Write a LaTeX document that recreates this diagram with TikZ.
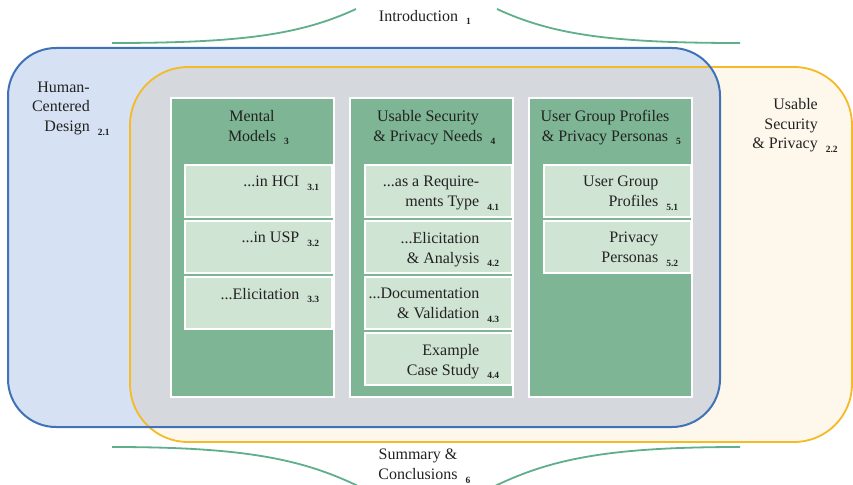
\documentclass[tikz,border=0pt]{standalone}
\usepackage{fontspec}
\setmainfont{Liberation Serif}
\usetikzlibrary{calc}
\definecolor{bluefill}{HTML}{D6E1F4}
\definecolor{blueline}{HTML}{3F72B6}
\definecolor{yelfill}{HTML}{FEF8EC}
\definecolor{yelline}{HTML}{F5BA25}
\definecolor{grayfill}{HTML}{D5D8DD}
\definecolor{colgreen}{HTML}{7EB594}
\definecolor{subgreen}{HTML}{D0E4D4}
\definecolor{bracegreen}{HTML}{5FAF8C}
\definecolor{txt}{HTML}{222222}
\newcommand{\subn}[1]{\rlap{\hspace{8pt}\raisebox{-3.5pt}{\fontsize{9.5}{9.5}\selectfont\bfseries #1}}}
\begin{document}
\begin{tikzpicture}[x=1pt,y=-1pt,
  lbl/.style={inner sep=0pt, text=txt, font=\fontsize{16}{19.8}\selectfont},
  colbox/.style={fill=colgreen, draw=white, line width=2pt, inner sep=0pt,
    anchor=north west, minimum width=163pt, minimum height=299pt},
  subbox/.style={fill=subgreen, draw=white, line width=1.5pt, inner sep=0pt,
    anchor=north west, minimum width=147pt, minimum height=52pt},
  brace/.style={draw=bracegreen, line width=1.8pt},
  boxtext/.style={lbl, align=right, anchor=north east},
]
\useasboundingbox (0,0) rectangle (853,484);
\fill[white] (0,0) rectangle (853,484);
% the two sets
\path[fill=bluefill, rounded corners=48pt] (8,48) rectangle (720,427);
\path[fill=yelfill, rounded corners=58pt] (130,67) rectangle (852,442);
\begin{scope}
  \clip[rounded corners=48pt] (8,48) rectangle (720,427);
  \fill[grayfill, rounded corners=58pt] (130,67) rectangle (852,442);
\end{scope}
\draw[yelline, line width=1.8pt, rounded corners=58pt] (130,67) rectangle (852,442);
\draw[blueline, line width=2pt, rounded corners=48pt] (8,48) rectangle (720,427);

% set labels
\node[lbl, align=right, anchor=north east] (hcd) at (90,81.5) {Human-\\Centered\\Design\subn{2.1}};
\node[lbl, align=right, anchor=north east] (usp) at (818,98) {Usable\\Security\\\& Privacy\subn{2.2}};

% columns
\node[colbox] (col3) at (170,97) {};
\node[colbox] (col4) at (349,97) {};
\node[colbox] (col5) at (528,97) {};

\node[lbl, align=center, anchor=north] (h3) at (252,110) {Mental\\Models\subn{3}};
\node[lbl, align=center, anchor=north] (h4) at (428,110) {Usable Security\\\& Privacy Needs\subn{4}};
\node[lbl, align=center, anchor=north] (h5) at (605,110) {User Group Profiles\\\& Privacy Personas\subn{5}};

% sub boxes column 3
\node[subbox] (b31) at (184,164) {};
\node[subbox] (b32) at (184,220) {};
\node[subbox] (b33) at (184,276) {};
\node[boxtext] (t31) at ($(b31.north east)+(-33,12)$) {...in HCI\subn{3.1}};
\node[boxtext] (t32) at ($(b32.north east)+(-33,12)$) {...in USP\subn{3.2}};
\node[boxtext] (t33) at ($(b33.north east)+(-33,12)$) {...Elicitation\subn{3.3}};

% sub boxes column 4
\node[subbox] (b41) at (364,164) {};
\node[subbox] (b42) at (364,220) {};
\node[subbox] (b43) at (364,276) {};
\node[subbox] (b44) at (364,332) {};
\node[boxtext] (t41) at ($(b41.north east)+(-33,12)$) {...as a Require-\\ments Type\subn{4.1}};
\node[boxtext] (t42) at ($(b42.north east)+(-33,12)$) {...Elicitation\\\& Analysis\subn{4.2}};
\node[boxtext] (t43) at ($(b43.north east)+(-33,12)$) {...Documentation\\\& Validation\subn{4.3}};
\node[boxtext] (t44) at ($(b44.north east)+(-33,12)$) {Example\\Case Study\subn{4.4}};

% sub boxes column 5
\node[subbox] (b51) at (543,164) {};
\node[subbox] (b52) at (543,220) {};
\node[boxtext] (t51) at ($(b51.north east)+(-33,12)$) {User Group\\Profiles\subn{5.1}};
\node[boxtext] (t52) at ($(b52.north east)+(-33,12)$) {Privacy\\Personas\subn{5.2}};

% introduction brace
\node[lbl, anchor=north] (intro) at (418.5,10) {Introduction\subn{1}};
\coordinate (tl0) at (112,43);
\coordinate (tl1) at (356,9);
\coordinate (tr0) at (497,9);
\coordinate (tr1) at (740,43);
\draw[brace] (tl0) .. controls (240,43) and (300,35) .. (tl1);
\draw[brace] (tr0) .. controls (553,35) and (612,43) .. (tr1);

% summary brace
\node[lbl, align=center, anchor=north] (summ) at (418,449) {Summary \&\\Conclusions\subn{6}};
\coordinate (bl0) at (112,447);
\coordinate (bl1) at (358,486);
\coordinate (br0) at (495,486);
\coordinate (br1) at (740,447);
\draw[brace] (bl0) .. controls (240,447) and (300,458) .. (bl1);
\draw[brace] (br0) .. controls (553,458) and (612,447) .. (br1);
\end{tikzpicture}
\end{document}
